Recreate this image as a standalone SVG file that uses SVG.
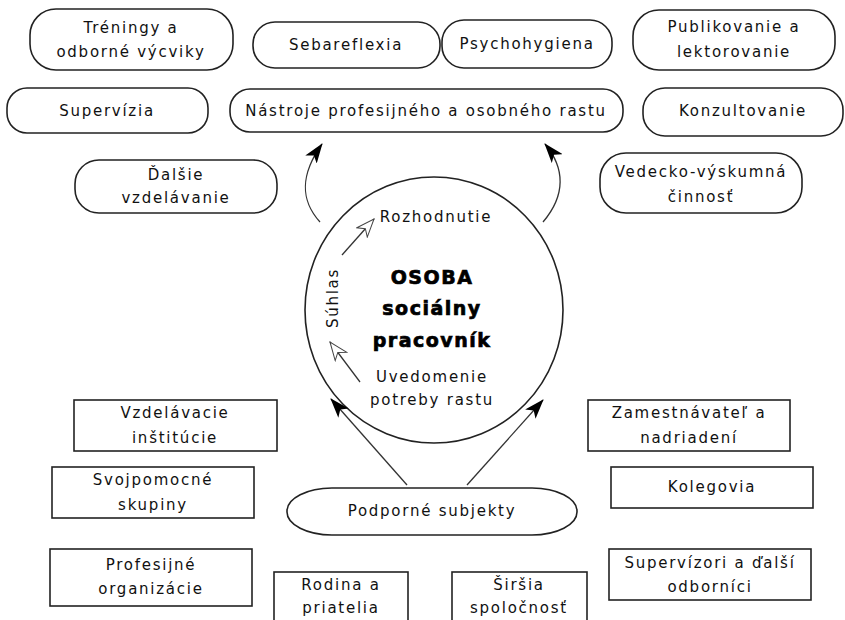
<svg xmlns="http://www.w3.org/2000/svg" width="845" height="620" viewBox="0 0 845 620">
<style>
.t{font-family:"DejaVu Sans","Liberation Sans",sans-serif;font-size:15px;letter-spacing:1.75px;fill:#111;text-anchor:middle;dominant-baseline:central}
.b{font-family:"DejaVu Sans","Liberation Sans",sans-serif;font-size:19px;font-weight:bold;letter-spacing:1.5px;fill:#000;stroke:#000;stroke-width:0.7;text-anchor:middle;dominant-baseline:central}
.r{fill:#fff;stroke:#222;stroke-width:1.6}
.c{fill:none;stroke:#333;stroke-width:1.3}
</style>
<defs>
<marker id="ah" viewBox="0 0 20 14" refX="19" refY="7" markerWidth="20" markerHeight="14" markerUnits="userSpaceOnUse" orient="auto">
<path d="M0,0 L20,7 L0,14 L5,7 Z" fill="#000"/>
</marker>
<marker id="ho" viewBox="0 0 20 16" refX="19" refY="8" markerWidth="20" markerHeight="16" markerUnits="userSpaceOnUse" orient="auto">
<path d="M1,1 L19,8 L1,15 L6,8 Z" fill="#fff" stroke="#444" stroke-width="1"/>
</marker>
</defs>
<rect width="845" height="620" fill="#fff"/>

<g id="treningy"><rect class="r" x="30" y="9" width="203" height="61" rx="26" ry="26"/><text class="t" x="131" y="28">Tréningy a</text><text class="t" x="131" y="52">odborné výcviky</text></g>
<g id="sebareflexia"><rect class="r" x="253" y="22" width="187" height="46" rx="22" ry="22"/><text class="t" x="346" y="45">Sebareflexia</text></g>
<g id="psychohygiena"><rect class="r" x="442" y="20" width="170" height="48" rx="22" ry="22"/><text class="t" x="527" y="44">Psychohygiena</text></g>
<g id="publikovanie"><rect class="r" x="633" y="10" width="202" height="60" rx="26" ry="26"/><text class="t" x="734" y="27">Publikovanie a</text><text class="t" x="734" y="52">lektorovanie</text></g>
<g id="supervizia"><rect class="r" x="7" y="88" width="201" height="45" rx="20" ry="20"/><text class="t" x="107" y="111">Supervízia</text></g>
<g id="nastroje"><rect class="r" x="230" y="89" width="393" height="43" rx="20" ry="20"/><text class="t" x="426" y="111">Nástroje profesijného a osobného rastu</text></g>
<g id="konzultovanie"><rect class="r" x="643" y="88" width="200" height="48" rx="22" ry="22"/><text class="t" x="743" y="111">Konzultovanie</text></g>
<g id="dalsie"><rect class="r" x="75" y="160" width="202" height="53" rx="24" ry="24"/><text class="t" x="176" y="175">Ďalšie</text><text class="t" x="176" y="198">vzdelávanie</text></g>
<g id="vedecko"><rect class="r" x="600" y="153" width="202" height="60" rx="26" ry="26"/><text class="t" x="701" y="172">Vedecko-výskumná</text><text class="t" x="701" y="197">činnosť</text></g>

<g id="osoba">
<ellipse class="r" cx="434" cy="310" rx="129" ry="133" stroke-width="1.4"/>
<text class="b" x="432" y="277">OSOBA</text>
<text class="b" x="432" y="308">sociálny</text>
<text class="b" x="432" y="340">pracovník</text>
<text class="t" x="436" y="217">Rozhodnutie</text>
<text class="t" x="432" y="377">Uvedomenie</text>
<text class="t" x="432" y="400">potreby rastu</text>
<text class="t" x="333" y="298" transform="rotate(-90 333 298)">Súhlas</text>
</g>

<g id="podporne"><rect class="r" x="287" y="488" width="290" height="47" rx="45" ry="23"/><text class="t" x="432" y="511">Podporné subjekty</text></g>

<g id="vzdelavacie"><rect class="r" x="74" y="400" width="203" height="51"/><text class="t" x="175" y="413">Vzdelávacie</text><text class="t" x="175" y="438">inštitúcie</text></g>
<g id="svojpomocne"><rect class="r" x="52" y="467" width="202" height="51"/><text class="t" x="153" y="480">Svojpomocné</text><text class="t" x="153" y="505">skupiny</text></g>
<g id="profesijne"><rect class="r" x="50" y="549" width="202" height="57"/><text class="t" x="151" y="565">Profesijné</text><text class="t" x="151" y="589">organizácie</text></g>
<g id="rodina"><rect class="r" x="274" y="572" width="134" height="60"/><text class="t" x="341" y="585">Rodina a</text><text class="t" x="341" y="608">priatelia</text></g>
<g id="zamestnavatel"><rect class="r" x="588" y="400" width="202" height="51"/><text class="t" x="689" y="413">Zamestnávateľ a</text><text class="t" x="689" y="438">nadriadení</text></g>
<g id="kolegovia"><rect class="r" x="611" y="467" width="202" height="41"/><text class="t" x="712" y="487">Kolegovia</text></g>
<g id="supervizori"><rect class="r" x="609" y="549" width="202" height="51"/><text class="t" x="710" y="563">Supervízori a ďalší</text><text class="t" x="710" y="587">odborníci</text></g>
<g id="sirsia"><rect class="r" x="452" y="572" width="135" height="60"/><text class="t" x="519" y="585">Širšia</text><text class="t" x="519" y="608">spoločnosť</text></g>

<g id="connectors">
<path class="c" d="M320,222 C300,200 300,175 322,144" marker-end="url(#ah)"/>
<path class="c" d="M543,222 C566,195 565,168 545,144" marker-end="url(#ah)"/>
<path class="c" d="M407,485 L331,399" marker-end="url(#ah)"/>
<path class="c" d="M467,485 L543,400" marker-end="url(#ah)"/>
<path class="c" d="M360,382 L330,342" marker-end="url(#ho)"/>
<path class="c" d="M342,255 L374,219" marker-end="url(#ho)"/>
</g>
</svg>
